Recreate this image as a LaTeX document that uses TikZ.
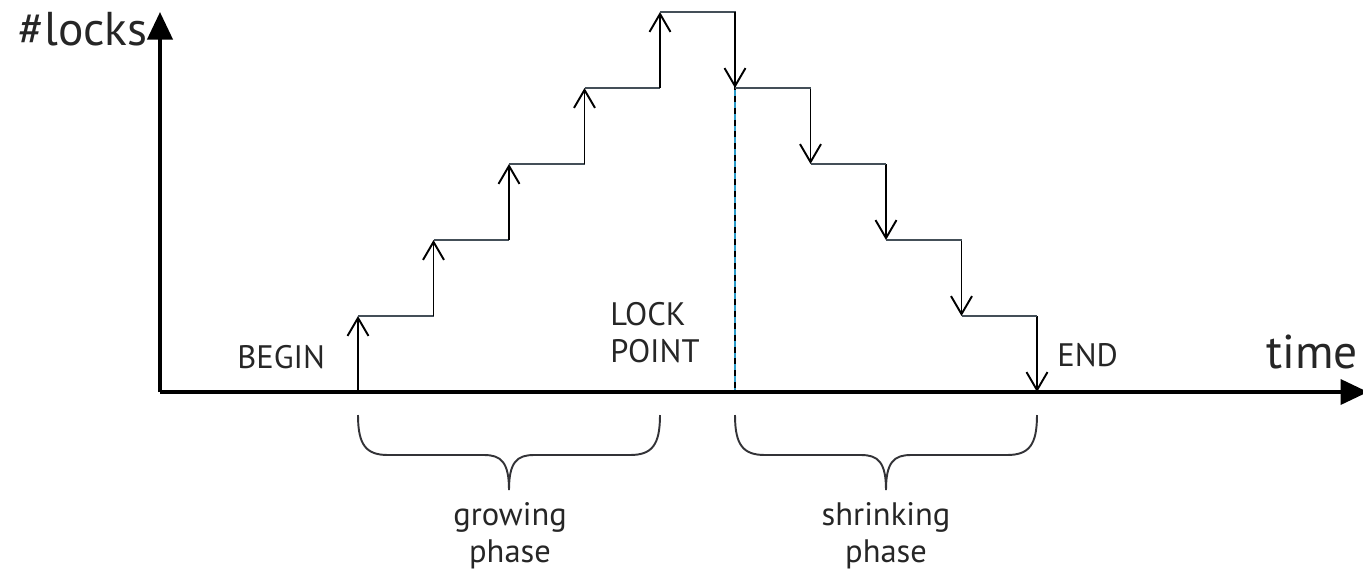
\documentclass[tikz,border=0pt]{standalone}
\usepackage{fontspec}
\setmainfont{PT Sans}
\usetikzlibrary{arrows.meta}
\usetikzlibrary{positioning}

\tikzset{
    axisline/.style={line width=2.2pt, -{Triangle[length=0.55cm,width=0.5cm]}},
    stepline/.style={line width=1.1pt, -{Straight Barb[length=0.36cm,width=0.42cm]}},
    flatline/.style={line width=0.8pt, black!75!cyan},
    bracepath/.style={line width=1.1pt, black!90!cyan},
    lbl/.style={font=\fontsize{18.5}{21}\selectfont, inner sep=0pt, text=black!85},
    biglbl/.style={font=\fontsize{27}{30}\selectfont, inner sep=0pt, text=black!85}
}

\begin{document}
\begin{tikzpicture}[x=0.02cm,y=-0.02cm]
        \useasboundingbox (0,0) rectangle (1363,569);
        \coordinate (O) at (160,392);
        \coordinate (ytop) at (160,12);
        \coordinate (xend) at (1368,392);
        \coordinate (lockpt) at (735,12);
        \coordinate (lockbase) at (735,392);
        % lock point line
        \draw[cyan!60!teal, line width=1pt] (lockpt) -- (lockbase);
        \draw[line width=1.4pt, dash pattern=on 3.4pt off 3.4pt] (lockpt) -- (lockbase);
        % growing phase
        \foreach \i in {0,...,4}
        {
            \draw[stepline] ({358+75.5*\i}, {392-76*\i}) -- ({358+75.5*\i}, {392-76*(\i+1)});
            \draw[flatline] ({358+75.5*\i}, {392-76*(\i+1)}) -- ({358+75.5*(\i+1)}, {392-76*(\i+1)});
        }
        % shrinking phase
        \foreach \i in {0,...,4}
        {
            \draw[stepline] ({735+75.5*\i}, {12+76*\i}) -- ({735+75.5*\i}, {12+76*(\i+1)});
        }
        \foreach \i in {0,...,3}
        {
            \draw[flatline] ({735+75.5*\i}, {12+76*(\i+1)}) -- ({735+75.5*(\i+1)}, {12+76*(\i+1)});
        }
        % axes
        \draw[axisline] (O) -- (ytop);
        \draw[axisline] (O) -- (xend);
        % braces
        \foreach \a/\b in {358/660, 735/1037}
        {
            \pgfmathsetmacro{\m}{(\a+\b)/2}
            \draw[bracepath] (\a,415) .. controls (\a,445) and (\a+8,455) .. (\a+30,455) -- (\m-25,455)
                .. controls (\m-8,455) and (\m,462) .. (\m,490)
                .. controls (\m,462) and (\m+8,455) .. (\m+25,455) -- (\b-30,455)
                .. controls (\b-8,455) and (\b,445) .. (\b,415);
        }
        \node[biglbl, anchor=base west] (ylabel) at (18,45) {\#locks};
        \node[biglbl, anchor=base east] (xlabel) at (1358,368) {time};
        \node[lbl, anchor=base west] (begin) at (237,368) {BEGIN};
        \node[lbl, anchor=base west] (end) at (1057,366) {END};
        \node[lbl, align=left, anchor=north west] (lock) at (610,302) {LOCK\\POINT};
        \node[lbl, align=center, anchor=north] (grow) at (510,502) {growing\\phase};
        \node[lbl, align=center, anchor=north] (shrink) at (886,502) {shrinking\\phase};
\end{tikzpicture}
\end{document}
